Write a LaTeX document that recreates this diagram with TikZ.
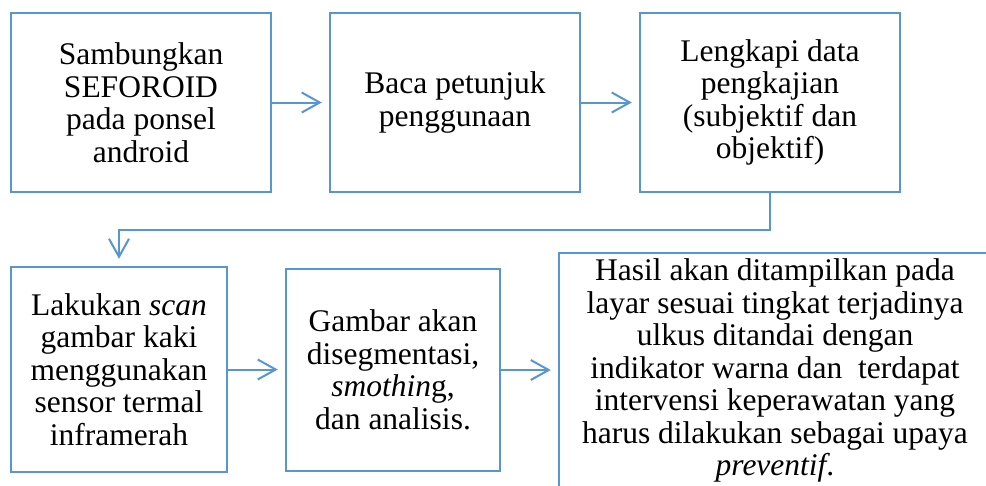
\documentclass[tikz,border=0pt]{standalone}
\usepackage{fontspec}
\newfontfamily\tnr{Liberation Serif}
\usetikzlibrary{arrows.meta}
\definecolor{boxblue}{RGB}{88,150,208}
\begin{document}
\begin{tikzpicture}[x=1pt,y=-1pt,
  stepbox/.style={draw=boxblue, line width=2.4pt, fill=white, inner sep=0pt,
    align=center, font=\tnr\fontsize{31.5}{32.5}\selectfont},
  flow/.style={draw=boxblue, line width=2pt,
    -{Straight Barb[length=18pt,width=20pt,line width=2pt]}, shorten >=7pt}]
\useasboundingbox (0,0) rectangle (986,485);
\clip (0,0) rectangle (986,485);
\fill[white] (0,0) rectangle (986,485);
\node[stepbox, minimum width=260pt, minimum height=179pt] (b1) at (141,102.5)
  {Sambungkan\\SEFOROID\\pada ponsel\\android};
\node[stepbox, minimum width=250pt, minimum height=179pt] (b2) at (455,102.5)
  {Baca petunjuk\\penggunaan};
\node[stepbox, minimum width=260pt, minimum height=179pt] (b3) at (770,102.5)
  {Lengkapi data\\pengkajian\\(subjektif dan\\objektif)};
\node[stepbox, minimum width=216pt, minimum height=205pt] (b4) at (119,369.5)
  {Lakukan \textit{scan}\\gambar kaki\\menggunakan\\sensor termal\\inframerah};
\node[stepbox, minimum width=214pt, minimum height=202pt] (b5) at (393,370)
  {Gambar akan\\disegmentasi,\\\textit{smothin}g,\\dan analisis.};
\node[stepbox, minimum width=432pt, minimum height=235pt] (b6) at (775,370.5)
  {Hasil akan ditampilkan pada\\layar sesuai tingkat terjadinya\\ulkus ditandai dengan\\indikator warna dan~ terdapat\\intervensi keperawatan yang\\harus dilakukan sebagai upaya\\\textit{preventif}.};
\coordinate (c1) at (770,230);
\coordinate (c2) at (119,230);
\draw[flow] (b1.east) -- (b2.west);
\draw[flow] (b2.east) -- (b3.west);
\draw[flow] (b3.south) -- (c1) -- (c2) -- (b4.north);
\draw[flow] (b4.east) -- (b4.east -| b5.west);
\draw[flow] (b5.east) -- (b5.east -| b6.west);
\end{tikzpicture}
\end{document}
